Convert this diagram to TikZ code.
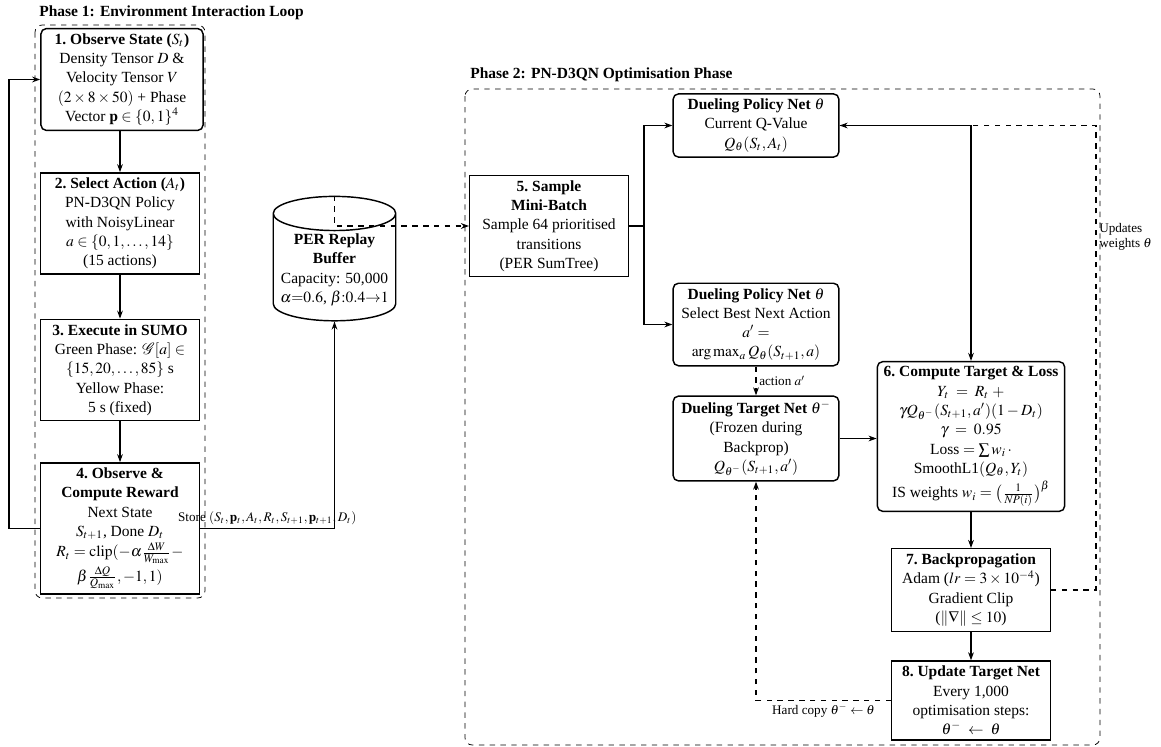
\documentclass[tikz,border=0pt]{standalone}
\usepackage{amsmath}
\usepackage{mathptmx}
\usepackage{mathrsfs}
\usepackage[no-math]{fontspec}
\setmainfont{Liberation Serif}
\usetikzlibrary{arrows.meta,shapes.geometric}
\tikzset{
  stepbox/.style={draw, thick, align=center, minimum width=88pt, inner xsep=3pt, inner ysep=2.8pt,
    font=\fontsize{8.6}{10.7}\selectfont},
  netbox/.style={stepbox, rounded corners=3pt, minimum width=92pt},
  replay/.style={cylinder, shape border rotate=90, aspect=0.3, draw, thick, align=center,
    inner sep=1.5pt, font=\fontsize{8.6}{10.7}\selectfont},
  flow/.style={-{Stealth[length=4.5pt,width=3.2pt]}, semithick},
  dashflow/.style={flow, dashed},
  phaseframe/.style={draw, dashed, rounded corners=4pt},
  phasetitle/.style={font=\fontsize{8.6}{10}\selectfont\bfseries, anchor=west, inner sep=0pt},
  lbl/.style={font=\fontsize{7.3}{8.6}\selectfont, inner sep=1.5pt}
}

\begin{document}
\begin{tikzpicture}[x=0.555pt, y=-0.555pt]
  \useasboundingbox (0,0) rectangle (1161,747);

  % phase frames
  \draw[phaseframe] (35,25) rectangle (205,598);
  \draw[phaseframe] (465,89) rectangle (1100,745);
  \node[phasetitle] (ph1) at (39,13) {Phase 1: Environment Interaction Loop};
  \node[phasetitle] (ph2) at (470,75) {Phase 2: PN-D3QN Optimisation Phase};

  % phase 1
  \node[stepbox, rounded corners=3pt, minimum width=90pt] (obs) at (122,79.5)
    {\textbf{1.\ Observe State ($S_t$)}\\ Density Tensor $D$ \&\\ Velocity Tensor $V$\\
     $(2\times8\times50)$ + Phase\\ Vector $\mathbf{p}\in\{0,1\}^4$};
  \node[stepbox] (act) at (120,223.5)
    {\textbf{2.\ Select Action ($A_t$)}\\ PN-D3QN Policy\\ with NoisyLinear\\
     $a\in\{0,1,\dots,14\}$\\ (15 actions)};
  \node[stepbox] (sumo) at (120,370)
    {\textbf{3.\ Execute in SUMO}\\ Green Phase: $\mathscr{G}[a]\in$\\ $\{15,20,\dots,85\}$ s\\
     Yellow Phase:\\ 5 s (fixed)};
  \node[stepbox] (rew) at (120,528.5)
    {\textbf{4.\ Observe \&}\\ \textbf{Compute Reward}\\ Next State\\ $S_{t+1}$, Done $D_t$\\[0.6pt]
     $R_t=\mathrm{clip}(-\alpha\frac{\Delta W}{W_{\max}}-$\\[0.6pt] $\beta\frac{\Delta Q}{Q_{\max}},-1,1)$};

  % replay buffer
  \node[replay, minimum width=68pt, minimum height=65pt] (buf) at (334.5,270)
    {\textbf{PER Replay}\\ \textbf{Buffer}\\ Capacity: 50,000\\ $\alpha{=}0.6$, $\beta{:}0.4{\to}1$};

  % phase 2
  \node[stepbox] (batch) at (549,226)
    {\textbf{5.\ Sample}\\ \textbf{Mini-Batch}\\ Sample 64 prioritised\\ transitions\\ (PER SumTree)};
  \node[netbox] (qcur) at (756,125.5)
    {\textbf{Dueling Policy Net $\theta$}\\ Current Q-Value\\ $Q_{\boldsymbol{\theta}}(S_t,A_t)$};
  \node[netbox] (qsel) at (756,324.5)
    {\textbf{Dueling Policy Net $\theta$}\\ Select Best Next Action\\ $a'=$\\
     $\arg\max_a Q_{\boldsymbol{\theta}}(S_{t+1},a)$};
  \node[netbox] (qtgt) at (756,438.5)
    {\textbf{Dueling Target Net $\theta^-$}\\ (Frozen during\\ Backprop)\\
     $Q_{\boldsymbol{\theta}^-}(S_{t+1},a')$};
  \node[netbox, minimum width=104pt] (loss) at (971,436.5)
    {\textbf{6.\ Compute Target \& Loss}\\ $Y_t\;=\;R_t\;+$\\
     $\gamma Q_{\boldsymbol{\theta}^-}(S_{t+1},a')(1-D_t)$\\ $\gamma\;=\;0.95$\\
     Loss $=\sum w_i\,\cdot$\\ SmoothL1$(Q_{\boldsymbol{\theta}},Y_t)$\\[0.8pt]
     IS weights $w_i=\bigl(\frac{1}{NP(i)}\bigr)^{\beta}$};
  \node[stepbox] (bprop) at (971,590)
    {\textbf{7.\ Backpropagation}\\ Adam ($lr=3\times10^{-4}$)\\ Gradient Clip\\
     ($\|\nabla\|\le10$)};
  \node[stepbox] (sync) at (971,700.5)
    {\textbf{8.\ Update Target Net}\\ Every 1,000\\ optimisation steps:\\
     $\boldsymbol{\theta}^-\;\leftarrow\;\boldsymbol{\theta}$};

  % environment loop
  \draw[flow] (obs.south -| act.north) -- (act);
  \draw[flow] (act) -- (sumo);
  \draw[flow] (sumo) -- (rew);
  \draw[flow] (rew.west) -- ++(-31,0) |- (obs.west);
  \draw[flow] (rew.east) -| (buf.south)
    node[pos=0.25, above, lbl] {Store $(S_t,\mathbf{p}_t,A_t,R_t,S_{t+1},\mathbf{p}_{t+1},D_t)$};
  \draw[dashflow] (buf.north) |- (batch.west);

  % optimisation
  \coordinate (split) at ([xshift=8.3pt]batch.east);
  \draw[semithick] (batch.east) -- (split);
  \draw[flow] (split) |- (qcur.west);
  \draw[flow] (split) |- (qsel.west);
  \draw[dashflow] (qsel) -- (qtgt) node[midway, right, lbl] {action $a'$};
  \draw[flow] (qcur.east) -| (loss.north);
  \draw[flow] (qtgt.east) -- (qtgt.east -| loss.west);
  \draw[flow] (loss) -- (bprop);
  \draw[flow] (bprop) -- (sync);
  \draw[dashflow] (bprop.east) -- ++(45,0) |- (qcur.east)
    node[pos=0.38, right, lbl, align=left] {Updates\\weights $\boldsymbol{\theta}$};
  \draw[dashflow] (sync.west) -| (qtgt.south)
    node[pos=0.25, below, lbl] {Hard copy $\boldsymbol{\theta}^-\leftarrow\boldsymbol{\theta}$};
\end{tikzpicture}
\end{document}
